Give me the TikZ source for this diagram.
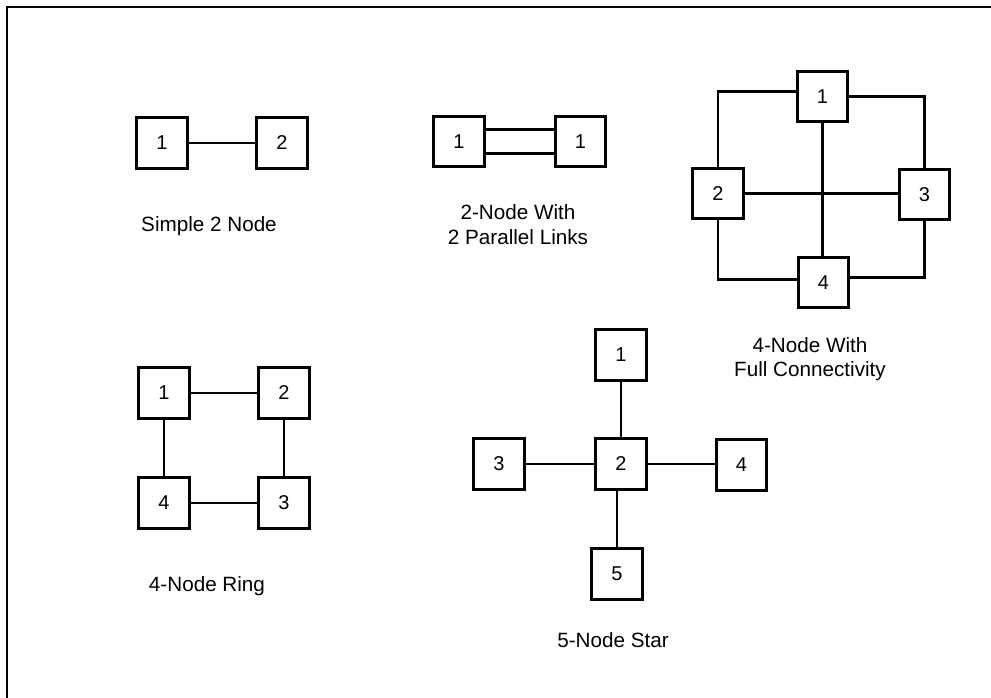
\documentclass[tikz,border=0pt]{standalone}
\usepackage{fontspec}
\setmainfont{Liberation Sans}
\usetikzlibrary{positioning,calc}

\begin{document}
\begin{tikzpicture}[x=0.75pt,y=-0.75pt,
    box/.style={draw,line width=2.2pt,minimum size=38pt,inner sep=0pt,font=\fontsize{15}{18}\selectfont},
    link/.style={line width=2.2pt},
    lbl/.style={align=center,font=\fontsize{15.5}{18.5}\selectfont}]
    \useasboundingbox (0,0) rectangle (991,698);
    % frame
    \draw[line width=2.2pt] (7,698) -- (7,7) -- (991,7);
    % Simple 2 node
    \node[box] (A1) at (162,143) {1};
    \node[box] (A2) at (282,143) {2};
    \draw[link] (A1) -- (A2);
    \node[lbl] (Alab) at (209,226) {Simple 2 Node};
    % 2 nodes with parallel links
    \node[box] (B1) at (459,141.5) {1};
    \node[box] (B2) at (580.5,141.5) {1};
    \draw[link] ([yshift=9pt]B1.east) -- ([yshift=9pt]B2.west);
    \draw[link] ([yshift=-9pt]B1.east) -- ([yshift=-9pt]B2.west);
    \node[lbl] (Blab) at (518,224.5) {2-Node With\\2 Parallel Links};
    % 4 nodes fully connected
    \node[box] (C1) at (822.5,96.5) {1};
    \node[box] (C2) at (718,193.5) {2};
    \node[box] (C3) at (924.5,194.5) {3};
    \node[box] (C4) at (823.5,282.5) {4};
    \draw[link] (C1) -- (C1 |- C4.north);
    \draw[link] (C2) -- (C2 -| C3.west);
    \draw[link] ([yshift=4pt]C1.west) -| (C2);
    \draw[link] (C1) -| (C3);
    \draw[link] (C2) |- ([yshift=2.5pt]C4.west);
    \draw[link] (C3) |- ([yshift=4pt]C4.east);
    \node[lbl] (Clab) at (810,359) {4-Node With\\Full Connectivity};
    % 4 node ring
    \node[box] (D1) at (164,393) {1};
    \node[box] (D2) at (284,393) {2};
    \node[box] (D3) at (284,503) {3};
    \node[box] (D4) at (164,503) {4};
    \draw[link] (D1) -- (D2) -- (D3) -- (D4) -- (D1);
    \node[lbl] (Dlab) at (207,586) {4-Node Ring};
    % 5 node star
    \node[box] (E2) at (621,464) {2};
    \node[box] (E1) at (621,355) {1};
    \node[box] (E3) at (499,464) {3};
    \node[box] (E4) at (741.5,465) {4};
    \node[box] (E5) at (617,574) {5};
    \foreach \n in {E1,E3}
        \draw[link] (E2) -- (\n);
    \draw[link] (E2) -- (E2 -| E4.west);
    \draw[link] (E5) -- (E5 |- E2.south);
    \node[lbl] (Elab) at (613,640) {5-Node Star};
\end{tikzpicture}
\end{document}
